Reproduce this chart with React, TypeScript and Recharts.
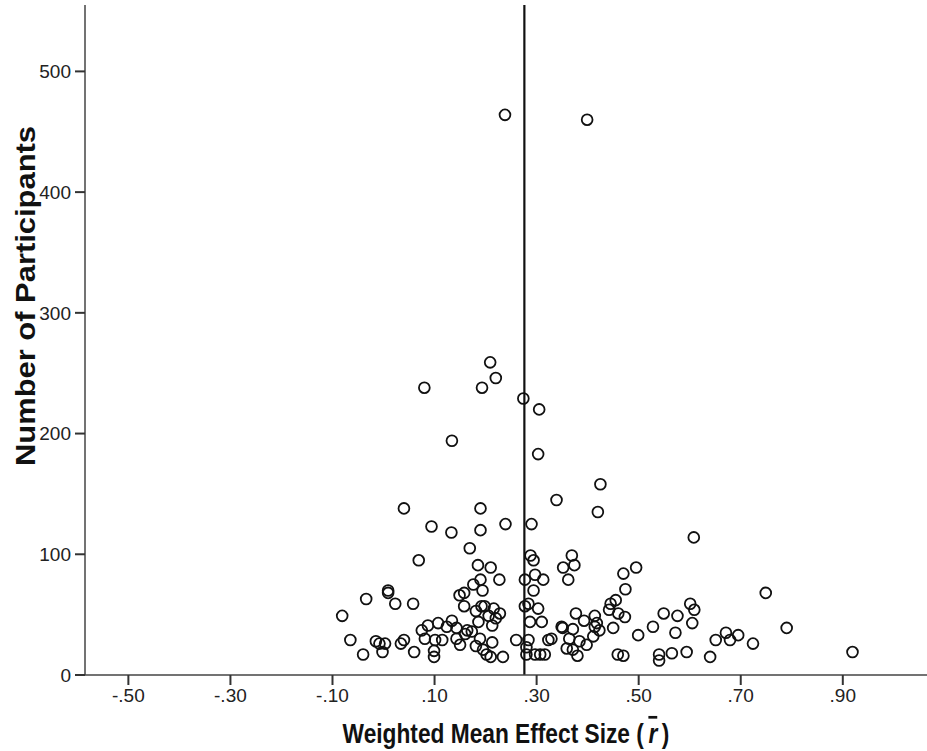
import { ScatterChart, Scatter, XAxis, YAxis, ReferenceLine } from 'recharts';

// weighted mean effect size (r) per study
const effectSizes = [
  0.238, 0.399, 0.209, 0.22, 0.08, 0.193, 0.274, 0.305, 0.134, 0.303, 0.425, 0.339, 0.42, 0.04,
  0.19, 0.094, 0.133, 0.19, 0.239, 0.29, 0.169,
  0.069, 0.185, 0.21, 0.227, 0.19, 0.176, 0.194, 0.009, 0.009, -0.034, 0.023, 0.058, 0.149, 0.158,
  0.158, 0.181, 0.192, 0.198, 0.216, 0.228, 0.22, 0.206, 0.186, 0.213, -0.081, 0.107, 0.087, 0.134,
  0.124, 0.143, 0.164, 0.173, 0.16, 0.075, 0.081, 0.101, 0.115, 0.143, 0.189, 0.213, 0.181, 0.15,
  -0.065, -0.015, -0.008, 0.003, 0.034, 0.04, -0.04, -0.002, 0.06, 0.099, 0.099, 0.195, 0.202, 0.21,
  0.234, 0.26,
  0.288, 0.294, 0.369, 0.352, 0.374, 0.362, 0.47, 0.495, 0.474, 0.297, 0.313, 0.277, 0.294, 0.284,
  0.277, 0.303, 0.287, 0.31, 0.284, 0.323, 0.329, 0.28, 0.28, 0.297, 0.307, 0.316, 0.377, 0.393,
  0.349, 0.351, 0.371, 0.414, 0.418, 0.414, 0.423, 0.364, 0.384, 0.359, 0.371, 0.38, 0.398, 0.411,
  0.442, 0.445, 0.455, 0.46, 0.473, 0.45, 0.459, 0.47, 0.499, 0.528, 0.549, 0.576, 0.572, 0.601,
  0.609, 0.605, 0.54, 0.54, 0.565, 0.594, 0.64, 0.651, 0.671, 0.679, 0.695, 0.608,
  0.724, 0.749, 0.79, 0.919
];

// number of participants per study
const participants = [
  464, 460, 259, 246, 238, 238, 229, 220, 194, 183, 158, 145, 135, 138,
  138, 123, 118, 120, 125, 125, 105,
  95, 91, 89, 79, 79, 75, 70, 70, 68, 63, 59, 59, 66, 68,
  57, 53, 57, 57, 55, 51, 47, 49, 44, 41, 49, 43, 41, 45,
  40, 39, 37, 36, 34, 37, 30, 29, 29, 30, 30, 27, 24, 25,
  29, 28, 26, 26, 26, 29, 17, 19, 19, 20, 15, 21, 17, 15,
  15, 29,
  99, 95, 99, 89, 91, 79, 84, 89, 71, 83, 79, 79, 70, 59,
  57, 55, 44, 44, 29, 29, 30, 23, 17, 17, 17, 17, 51, 45,
  40, 39, 38, 49, 43, 40, 37, 30, 28, 22, 21, 16, 25, 32,
  54, 59, 62, 51, 48, 39, 17, 16, 33, 40, 51, 49, 35, 59,
  54, 43, 17, 12, 18, 19, 15, 29, 35, 29, 33, 114,
  26, 68, 39, 19
];

const xTicks = [-0.5, -0.3, -0.1, 0.1, 0.3, 0.5, 0.7, 0.9];
const yTicks = [0, 100, 200, 300, 400, 500];
const meanEffect = 0.276;

const points = effectSizes.map((r, i) => ({ r, n: participants[i] }));

const fmtX = (v: number) => (v < 0 ? '-' : '') + Math.abs(v).toFixed(2).replace(/^0/, '');

const TICK_FONT = { fill: '#222', fontSize: 19, fontFamily: '"Liberation Sans", Arial, sans-serif' };
const TITLE_STYLE = {
  fontFamily: '"Liberation Sans", Arial, sans-serif',
  fontWeight: 700,
  fontSize: 27,
  fill: '#111'
};
const SQUEEZE = 0.842; // the original titles use a condensed face

function OpenCircle(props: any) {
  const { cx, cy } = props;
  return <circle cx={cx} cy={cy} r={5.4} fill="none" stroke="#111" strokeWidth={1.8} />;
}

function YTitle() {
  const x = 26;
  const y = 296;
  return (
    <text
      x={x}
      y={y}
      transform={`rotate(-90, ${x}, ${y})`}
      textAnchor="middle"
      dominantBaseline="central"
      textLength={340}
      lengthAdjust="spacingAndGlyphs"
      style={TITLE_STYLE}
    >
      Number of Participants
    </text>
  );
}

function XTitle() {
  return (
    <text
      x={506 / SQUEEZE}
      y={743}
      textAnchor="middle"
      transform={`scale(${SQUEEZE}, 1)`}
      style={TITLE_STYLE}
    >
      Weighted Mean Effect Size ({'\u2009'}
      <tspan fontStyle="italic" textDecoration="overline">r</tspan>
      {'\u2009'})
    </text>
  );
}

export default function App() {
  return (
    <div style={{ position: 'absolute', left: 0, top: 0, width: 927, height: 751, background: '#fff' }}>
      <ScatterChart width={927} height={751} margin={{ top: 5, right: 0, bottom: 0, left: 0 }}>
        <XAxis
          type="number"
          dataKey="r"
          domain={[-0.585, 1.065]}
          ticks={xTicks}
          tickFormatter={fmtX}
          allowDataOverflow
          height={76}
          tickSize={10}
          tickMargin={4}
          tick={TICK_FONT}
          axisLine={{ stroke: '#444', strokeWidth: 1.5 }}
          tickLine={{ stroke: '#333', strokeWidth: 2 }}
          label={<XTitle />}
        />
        <YAxis
          type="number"
          dataKey="n"
          domain={[0, 555]}
          ticks={yTicks}
          allowDataOverflow
          width={85}
          tickSize={10}
          tickMargin={4}
          tick={TICK_FONT}
          axisLine={{ stroke: '#444', strokeWidth: 1.5 }}
          tickLine={{ stroke: '#333', strokeWidth: 2 }}
          label={<YTitle />}
        />
        <ReferenceLine x={meanEffect} stroke="#111" strokeWidth={2.2} />
        <Scatter data={points} shape={<OpenCircle />} isAnimationActive={false} />
      </ScatterChart>
    </div>
  );
}
